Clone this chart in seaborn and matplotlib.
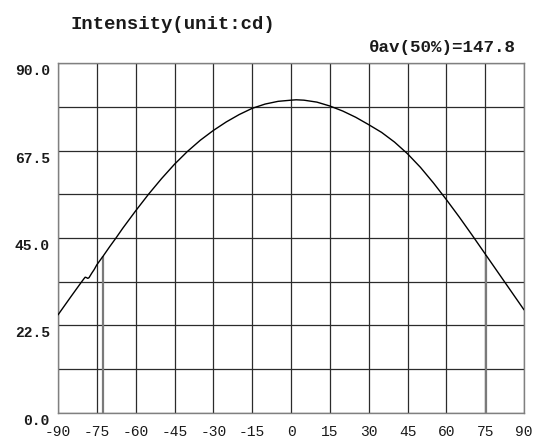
"""
intensity distribution plot
"""

import numpy as np
import pandas as pd
import matplotlib
matplotlib.use("Agg")
import matplotlib.pyplot as plt
import seaborn as sns

# angle (deg) vs intensity (cd)
angle = [-90, -85, -81, -80, -79.5, -79, -78.5, -78, -77, -76, -75, -72.5,
         -70, -67.5, -65, -60, -55, -50, -45, -40, -35, -30, -25, -20, -15,
         -10, -5, 0, 2, 5, 10, 15, 20, 25, 30, 35, 40, 45, 50, 55, 60, 65,
         70, 75, 80, 85, 90]
intensity = [25.2, 29.9, 33.6, 34.5, 34.9, 34.8, 34.6, 34.8, 35.9, 36.9, 38.1,
             40.4, 42.8, 45.1, 47.5, 52.0, 56.3, 60.3, 64.0, 67.3, 70.2, 72.7,
             74.9, 76.8, 78.4, 79.5, 80.2, 80.5, 80.6, 80.5, 80.0, 79.0, 77.7,
             76.1, 74.2, 72.2, 69.7, 66.7, 63.2, 59.2, 54.9, 50.4, 45.7,
             40.9, 36.1, 31.3, 26.5]

# half intensity angles
half_angles = [-72.5, 75.3]
half_values = [40.25, 40.25]

xticks = list(range(-90, 91, 15))
yticks = [0, 22.5, 45, 67.5, 90]
title = "Intensity(unit:cd)"
subtitle = "θav(50%)=147.8"

sns.set_style("white")
plt.rcParams['font.family'] = ['Liberation Mono', 'DejaVu Sans']
plt.rcParams['axes.unicode_minus'] = False

dat = pd.DataFrame({'angle': angle, 'intensity': intensity})

fig = plt.figure(figsize=(5.35, 4.39), dpi=100)
ax = fig.add_axes([58 / 535, 25.3 / 439, 466 / 535, 349.4 / 439])

# grid
for x in xticks:
    ax.axvline(x, color='#2b2b2b', lw=0.9, zorder=1)
for y in np.arange(0, 90.01, 11.25):
    ax.axhline(y, color='#2b2b2b', lw=0.9, zorder=1)

# half intensity markers
ax.vlines(half_angles, 0, half_values, color='#7a7a7a', lw=1.6, zorder=2)

sns.lineplot(data=dat, x='angle', y='intensity', color='black', lw=1.0,
             ax=ax, zorder=3)

ax.set_xlim(-90, 90)
ax.set_ylim(0, 90)
ax.set_xticks(xticks)
ax.set_xticklabels([str(t) for t in xticks])
ax.set_yticks(yticks)
ax.set_yticklabels(["%.1f" % t for t in yticks])
ax.set_xlabel("")
ax.set_ylabel("")
ax.tick_params(axis='both', length=0, labelsize=10.5, colors='#1a1a1a')
ax.tick_params(axis='x', pad=8)
ax.tick_params(axis='y', pad=6)
for lab in ax.get_yticklabels():
    lab.set_fontweight('bold')
    lab.set_va('top')

for s in ax.spines.values():
    s.set_color('#808080')
    s.set_linewidth(1.0)

fig.text(70 / 535, 1 - 24.5 / 439, title, fontsize=13.6, fontweight='bold',
         ha='left', va='center', color='#1a1a1a')
fig.text(516 / 535, 1 - 47.5 / 439, subtitle, fontsize=12.6, fontweight='bold',
         ha='right', va='center', color='#1a1a1a')

fig.savefig("out.png", dpi=100)
